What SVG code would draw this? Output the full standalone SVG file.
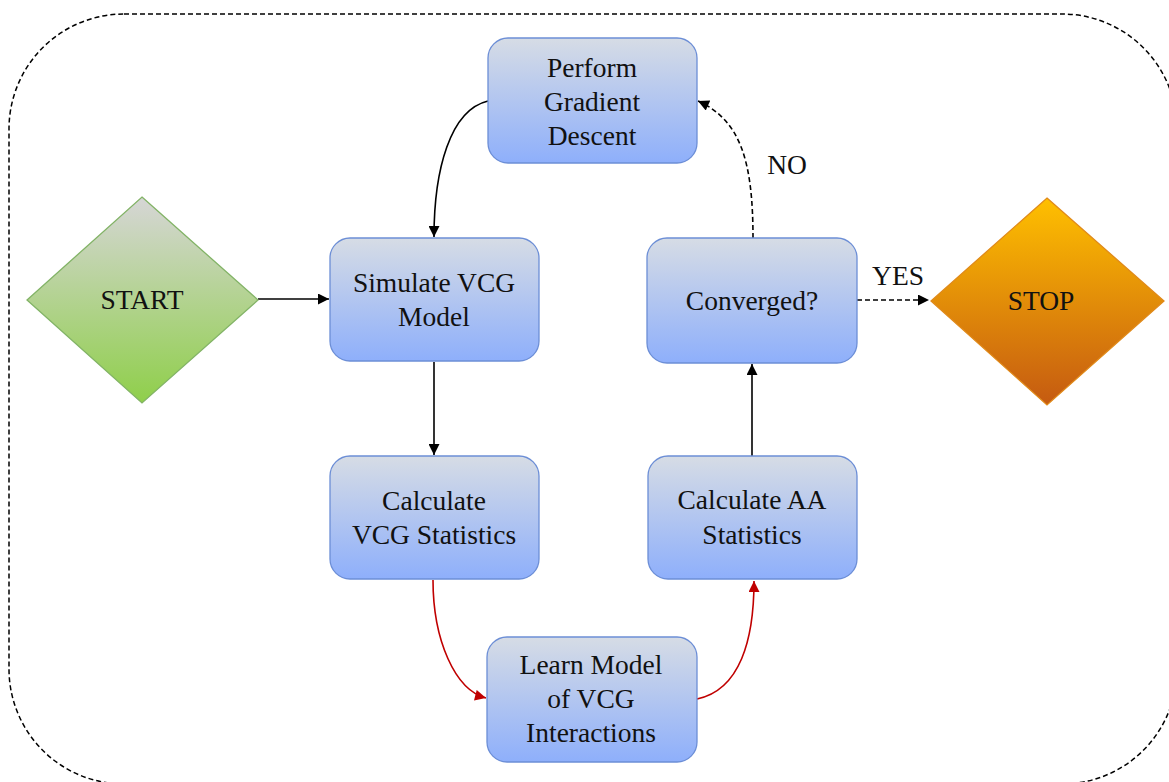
<svg xmlns="http://www.w3.org/2000/svg" width="1169" height="782" viewBox="0 0 1169 782">
<defs>
<linearGradient id="gBlue" x1="0" y1="0" x2="0" y2="1"><stop offset="0" stop-color="#d6dce5"/><stop offset="1" stop-color="#8eaffb"/></linearGradient>
<linearGradient id="gGreen" x1="0" y1="0" x2="0" y2="1"><stop offset="0" stop-color="#d6d6d6"/><stop offset="1" stop-color="#8fcf4a"/></linearGradient>
<linearGradient id="gOrange" x1="0" y1="0" x2="0" y2="1"><stop offset="0" stop-color="#ffc000"/><stop offset="1" stop-color="#c55a11"/></linearGradient>
<marker id="aBlack" viewBox="0 0 10 10" refX="10" refY="5" markerWidth="13" markerHeight="11" markerUnits="userSpaceOnUse" orient="auto"><path d="M0,0 L10,5 L0,10 z" fill="#000"/></marker>
<marker id="aRed" viewBox="0 0 10 10" refX="10" refY="5" markerWidth="13" markerHeight="11" markerUnits="userSpaceOnUse" orient="auto"><path d="M0,0 L10,5 L0,10 z" fill="#c00000"/></marker>
</defs>
<style>
.box{fill:url(#gBlue);stroke:#6c8ed6;stroke-width:1.3}
.t{font-family:'Liberation Serif','Times New Roman',serif;font-size:27.5px;fill:#111;text-anchor:middle}
.c{fill:none;stroke:#000;stroke-width:1.6}
.d{stroke-dasharray:5,3}
.r{fill:none;stroke:#c00000;stroke-width:1.6}
</style>
<rect x="9" y="14" width="1168" height="770" rx="115" ry="115" fill="none" stroke="#000" stroke-width="1.5" stroke-dasharray="5,3"/>
<g id="connectors">
<path class="c" d="M258,299 L329,299" marker-end="url(#aBlack)"/>
<path class="c" d="M488,101 C450,110 434,170 434,237" marker-end="url(#aBlack)"/>
<path class="c" d="M434,362 L434,455" marker-end="url(#aBlack)"/>
<path class="r" d="M433,580 C433,640 455,690 486,698" marker-end="url(#aRed)"/>
<path class="r" d="M697,699 C740,690 754,640 754,581" marker-end="url(#aRed)"/>
<path class="c" d="M752,456 L752,364" marker-end="url(#aBlack)"/>
<path class="c d" d="M753,238 C753,160 740,120 698,101" marker-end="url(#aBlack)"/>
<path class="c d" d="M857,300 L929,300" marker-end="url(#aBlack)"/>
<text class="t" x="787" y="174">NO</text>
<text class="t" x="898" y="285">YES</text>
</g>
<g id="start">
<polygon points="142,197 258,300 142,403 27,300" fill="url(#gGreen)" stroke="#82b366" stroke-width="1.3"/>
<text class="t" x="142" y="309">START</text>
</g>
<g id="stop">
<polygon points="1047,198 1164,301 1047,405 931,301" fill="url(#gOrange)" stroke="#e08a1a" stroke-width="1.3"/>
<text class="t" x="1041" y="310">STOP</text>
</g>
<g id="gradient">
<rect class="box" x="488" y="38" width="209" height="125" rx="20"/>
<text class="t" x="592" y="77">Perform</text>
<text class="t" x="592" y="111">Gradient</text>
<text class="t" x="592" y="145">Descent</text>
</g>
<g id="simulate">
<rect class="box" x="330" y="238" width="209" height="123" rx="20"/>
<text class="t" x="434" y="292">Simulate VCG</text>
<text class="t" x="434" y="326">Model</text>
</g>
<g id="calcvcg">
<rect class="box" x="330" y="456" width="209" height="123" rx="20"/>
<text class="t" x="434" y="510">Calculate</text>
<text class="t" x="434" y="544">VCG Statistics</text>
</g>
<g id="learn">
<rect class="box" x="487" y="637" width="210" height="125" rx="20"/>
<text class="t" x="591" y="674">Learn Model</text>
<text class="t" x="591" y="708">of VCG</text>
<text class="t" x="591" y="742">Interactions</text>
</g>
<g id="converged">
<rect class="box" x="647" y="238" width="210" height="125" rx="20"/>
<text class="t" x="752" y="310">Converged?</text>
</g>
<g id="calcaa">
<rect class="box" x="648" y="456" width="209" height="123" rx="20"/>
<text class="t" x="752" y="509">Calculate AA</text>
<text class="t" x="752" y="544">Statistics</text>
</g>
</svg>
